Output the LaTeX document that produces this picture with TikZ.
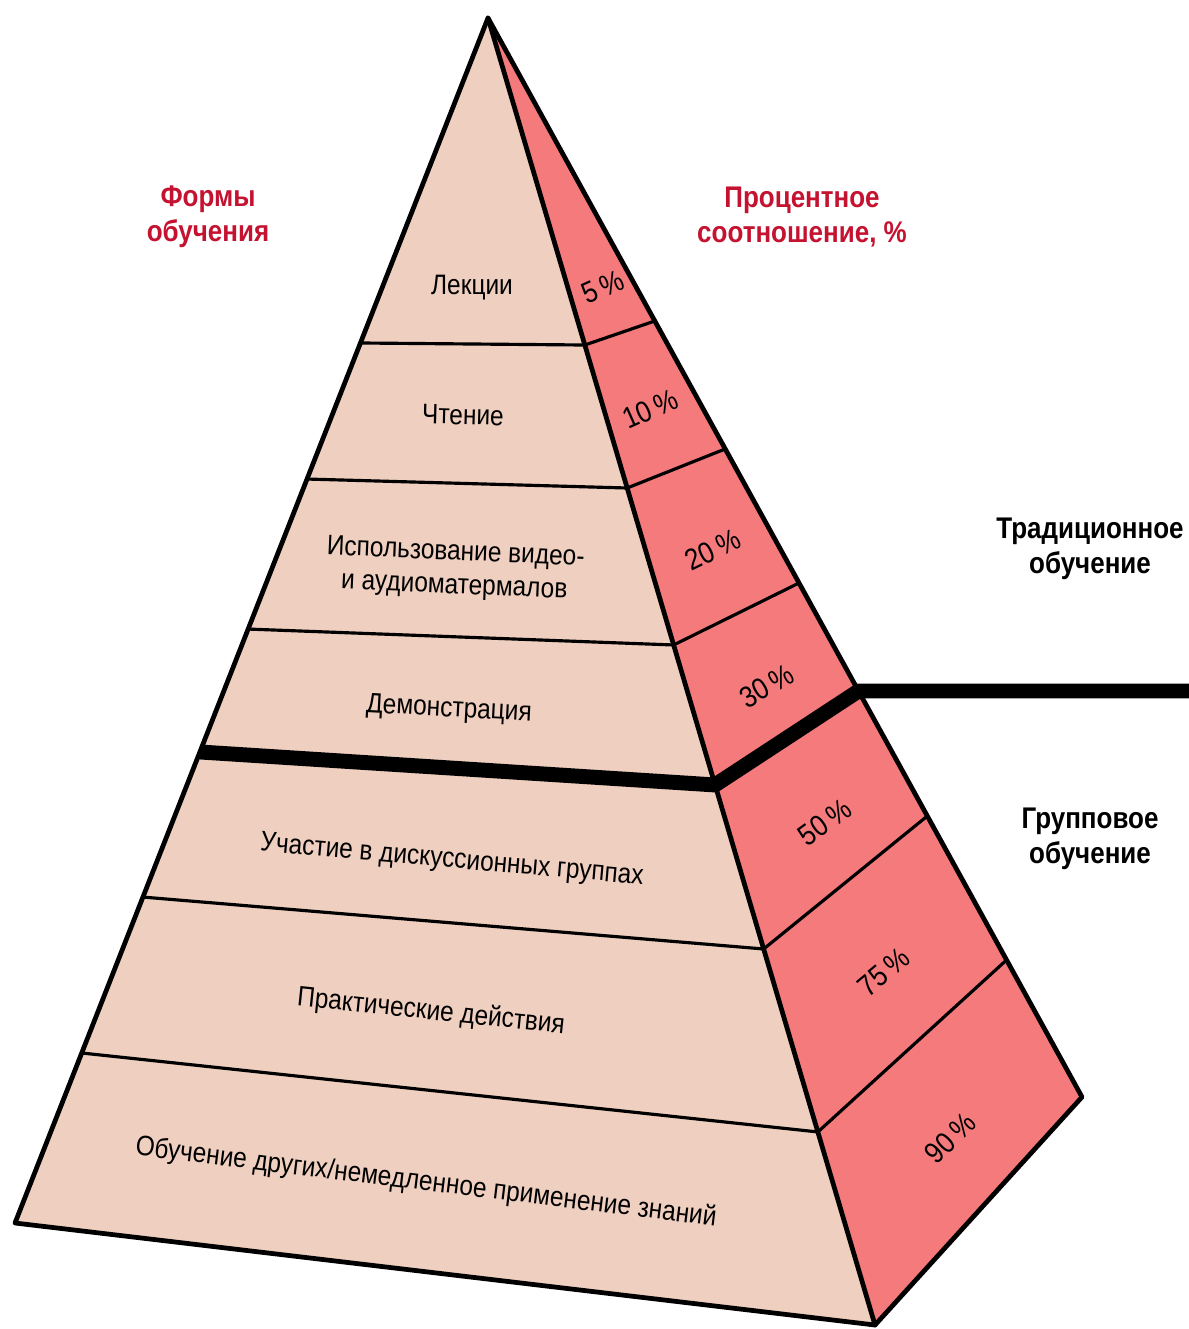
\documentclass[tikz,border=0pt]{standalone}
\usepackage{fontspec}
\setmainfont{Liberation Sans}[FakeStretch=0.87]
\usetikzlibrary{calc}
\definecolor{faceL}{RGB}{238,207,192}
\definecolor{faceR}{RGB}{245,122,124}
\definecolor{hdr}{RGB}{196,18,48}
\begin{document}
\begin{tikzpicture}[x=0.02cm,y=-0.02cm,
  lbl/.style={font=\fontsize{16}{19}\selectfont, inner sep=0pt, align=center},
  pct/.style={font=\fontsize{17}{19}\selectfont, inner sep=0pt},
  hdrtxt/.style={font=\fontsize{17}{20}\selectfont\bfseries, text=hdr, align=center, inner sep=0pt},
  side/.style={font=\fontsize{17}{20}\selectfont\bfseries, align=center, inner sep=0pt},
  outline/.style={line width=2.7pt, line join=round, line cap=round},
  band/.style={line width=1.8pt},
  divider/.style={line width=8.5pt, line join=miter}]
\useasboundingbox (0,0) rectangle (1189,1329);
% corners
\coordinate (A) at (488,18);
\coordinate (L) at (15,1223);
\coordinate (F) at (875,1325);
\coordinate (R) at (1082,1097);
% level points
\coordinate (l1) at ($(A)!0.2697!(L)$); \coordinate (f1) at ($(A)!0.2502!(F)$); \coordinate (r1) at ($(A)!0.2808!(R)$);
\coordinate (l2) at ($(A)!0.3826!(L)$); \coordinate (f2) at ($(A)!0.3596!(F)$); \coordinate (r2) at ($(A)!0.3994!(R)$);
\coordinate (l3) at ($(A)!0.5071!(L)$); \coordinate (f3) at ($(A)!0.4797!(F)$); \coordinate (r3) at ($(A)!0.5236!(R)$);
\coordinate (l4) at ($(A)!0.6091!(L)$); \coordinate (f4) at ($(A)!0.5868!(F)$); \coordinate (r4) at ($(A)!0.6237!(R)$);
\coordinate (l5) at ($(A)!0.7295!(L)$); \coordinate (f5) at ($(A)!0.7123!(F)$); \coordinate (r5) at ($(A)!0.7396!(R)$);
\coordinate (l6) at ($(A)!0.8589!(L)$); \coordinate (f6) at ($(A)!0.8523!(F)$); \coordinate (r6) at ($(A)!0.8730!(R)$);
\coordinate (tail) at (1189,691);
% faces
\fill[faceL] (A) -- (L) -- (F) -- cycle;
\fill[faceR] (A) -- (F) -- (R) -- cycle;
% bands
\draw[band] (l1) -- (f1) -- (r1);
\draw[band] (l2) -- (f2) -- (r2);
\draw[band] (l3) -- (f3) -- (r3);
\draw[band] (l5) -- (f5) -- (r5);
\draw[band] (l6) -- (f6) -- (r6);
\draw[divider] (l4) -- (f4) -- (r4) -- (tail |- r4);
% outline
\draw[outline] (A) -- (L) -- (F) -- (R) -- cycle;
\draw[outline] (A) -- (F);
% left labels
\node[lbl] (t1) at (472,288) {Лекции};
\node[lbl, rotate=-1.5] (t2) at (463,415) {Чтение};
\node[lbl, rotate=-2.5] (t3) at (455,570) {Использование видео-\\и аудиоматермалов};
\node[lbl, rotate=-3] (t4) at (449,710) {Демонстрация};
\node[lbl, rotate=-5] (t5) at (452,861) {Участие в дискуссионных группах};
\node[lbl, rotate=-6] (t6) at (431,1012) {Практические действия};
\node[lbl, rotate=-7] (t7) at (426,1183) {Обучение других/немедленное применение знаний};
% percents
\node[pct, rotate=24] (p1) at (603,287) {5\,\%};
\node[pct, rotate=24] (p2) at (650,409) {10\,\%};
\node[pct, rotate=26] (p3) at (713,550) {20\,\%};
\node[pct, rotate=30] (p4) at (767,686) {30\,\%};
\node[pct, rotate=36] (p5) at (825,822) {50\,\%};
\node[pct, rotate=40] (p6) at (884,972) {75\,\%};
\node[pct, rotate=44] (p7) at (950,1138) {90\,\%};
% headers
\node[hdrtxt] (h1) at (208,217) {Формы\\обучения};
\node[hdrtxt] (h2) at (802,217) {Процентное\\соотношение, \%};
\node[side] (s1) at (1090,549) {Традиционное\\обучение};
\node[side] (s2) at (1090,839) {Групповое\\обучение};
\end{tikzpicture}
\end{document}
